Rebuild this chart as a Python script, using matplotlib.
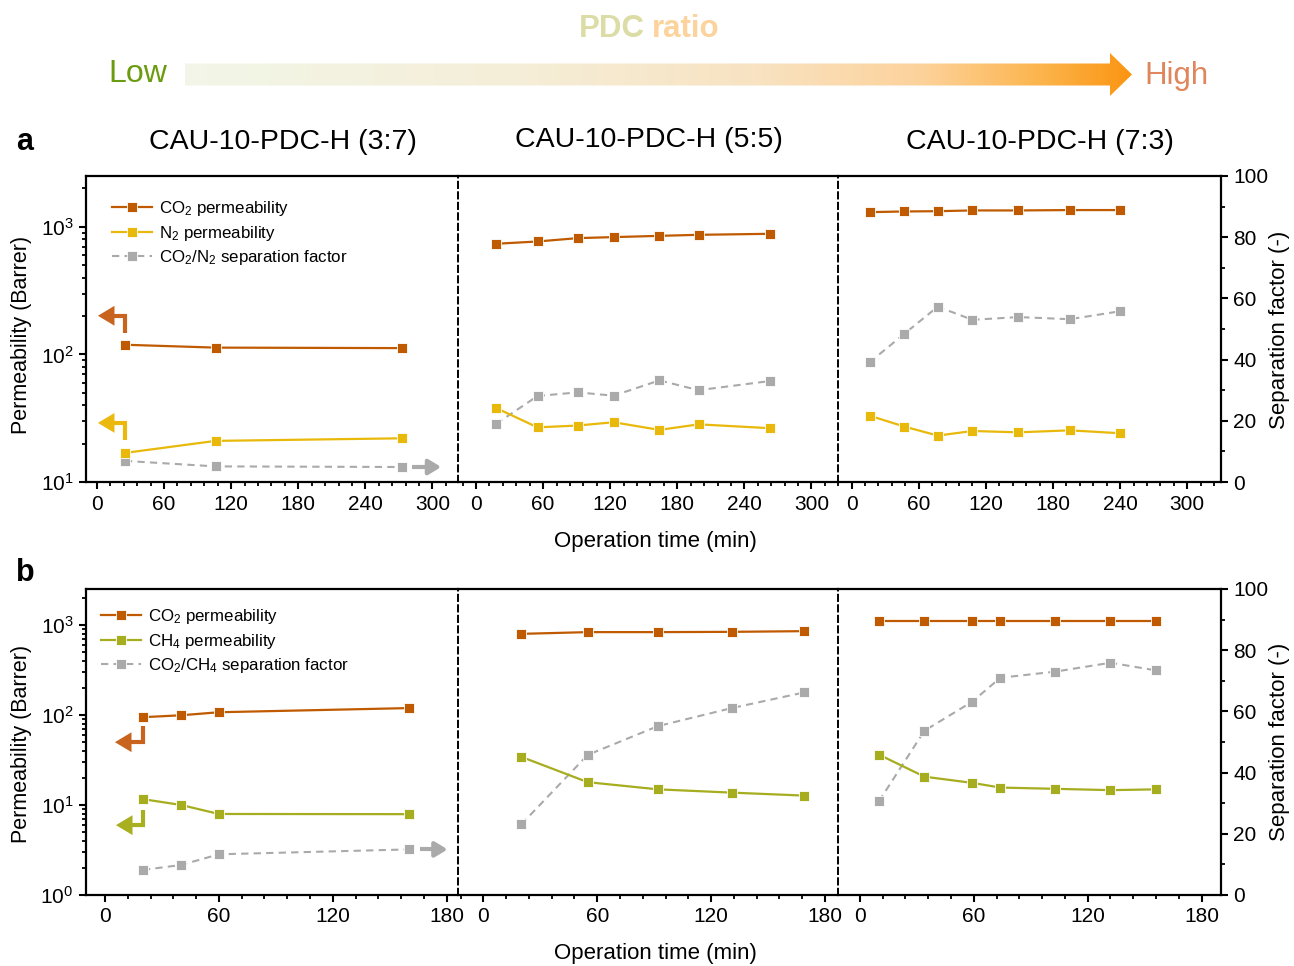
import matplotlib
matplotlib.use('Agg')
import matplotlib.pyplot as plt
import numpy as np
from matplotlib.patches import FancyArrowPatch, Polygon, ArrowStyle
from matplotlib.path import Path
from matplotlib.transforms import IdentityTransform
from matplotlib.colors import LinearSegmentedColormap
from matplotlib.ticker import MultipleLocator, LogLocator, NullFormatter
from matplotlib.lines import Line2D

plt.rcParams['font.family'] = ['Liberation Sans', 'DejaVu Sans']
plt.rcParams['mathtext.fontset'] = 'custom'
plt.rcParams['mathtext.rm'] = 'Liberation Sans'
plt.rcParams['mathtext.it'] = 'Liberation Sans:italic'
plt.rcParams['mathtext.bf'] = 'Liberation Sans:bold'

# ---------------- data ----------------
titles = ['CAU-10-PDC-H (3:7)', 'CAU-10-PDC-H (5:5)', 'CAU-10-PDC-H (7:3)']

# panel a : CO2 / N2
a_t_37 = [25, 106, 273]
a_co2_37 = [119, 113, 112]
a_n2_37 = [16.9, 21.0, 22.0]
a_sf_37 = [6.9, 5.1, 4.9]

a_t_55 = [18, 55, 91, 123, 164, 199, 263]
a_co2_55 = [736, 767, 815, 830, 849, 865, 881]
a_n2_55 = [38.0, 26.8, 27.7, 29.4, 25.6, 28.3, 26.4]
a_sf_55 = [19.0, 28.1, 29.3, 28.2, 33.2, 30.0, 33.0]

a_t_73 = [16, 47, 77, 108, 149, 195, 240]
a_co2_73 = [1303, 1318, 1325, 1343, 1343, 1352, 1352]
a_n2_73 = [33.1, 27.2, 23.1, 25.1, 24.5, 25.4, 24.1]
a_sf_73 = [39.1, 48.4, 57.3, 53.0, 53.9, 53.2, 55.8]

# panel b : CO2 / CH4
b_t_37 = [20, 40, 60, 160]
b_co2_37 = [94.3, 99, 107, 119]
b_ch4_37 = [11.6, 10.0, 7.94, 7.9]
b_sf_37 = [8.2, 9.8, 13.3, 14.9]

b_t_55 = [20, 55, 92, 131, 169]
b_co2_55 = [794, 830, 830, 836, 851]
b_ch4_55 = [34.2, 17.9, 14.9, 13.7, 12.7]
b_sf_55 = [23.1, 45.8, 55.2, 61.1, 66.2]

b_t_73 = [10, 34, 59, 74, 103, 132, 156]
b_co2_73 = [1116, 1116, 1116, 1116, 1116, 1116, 1116]
b_ch4_73 = [36.2, 20.6, 17.6, 15.6, 15.1, 14.6, 14.9]
b_sf_73 = [30.6, 53.7, 63.1, 71.0, 73.0, 75.9, 73.4]

# ---------------- style ----------------
C_CO2 = '#c05a00'
C_N2 = '#e8b90a'
C_CH4 = '#a6ad1e'
C_SF = '#aaaaaa'

W, H = 1294, 966
fig = plt.figure(figsize=(W / 100, H / 100), dpi=100)


def rect(x0, x1, yt, yb):
    return [x0 / W, 1 - yb / H, (x1 - x0) / W, (yb - yt) / H]


def draw_row(edges, ytop, ybot, xlims, series, ylim, xmax_tick, gas_color):
    axes = []
    for i in range(3):
        ax = fig.add_axes(rect(edges[i], edges[i + 1], ytop, ybot))
        tw = ax.twinx()
        ax.set_zorder(tw.get_zorder() + 1)
        ax.patch.set_visible(False)
        t, co2, gas, sf = series[i]
        ax.set_yscale('log')
        ax.set_ylim(*ylim)
        ax.set_xlim(*xlims[i])
        tw.set_ylim(0, 100)
        tw.plot(t, sf, color=C_SF, lw=1.5, ls=(0, (3.5, 2.5)), marker='s', ms=7.8,
                mec='white', mew=0.6)
        ax.plot(t, gas, color=gas_color, lw=1.6, marker='s', ms=7.8, mec='white', mew=0.6)
        ax.plot(t, co2, color=C_CO2, lw=1.6, marker='s', ms=7.8, mec='white', mew=0.6)

        ax.set_xticks(np.arange(0, xmax_tick + 1, 60))
        ax.xaxis.set_minor_locator(MultipleLocator(12))
        ax.yaxis.set_major_locator(LogLocator(base=10))
        ax.yaxis.set_minor_locator(LogLocator(base=10, subs=np.arange(2, 10)))
        ax.yaxis.set_minor_formatter(NullFormatter())
        tw.yaxis.set_major_locator(MultipleLocator(20))
        tw.yaxis.set_minor_locator(MultipleLocator(10))

        ax.tick_params(axis='both', which='major', direction='out', length=5, width=1.5,
                       labelsize=15, pad=4)
        ax.tick_params(axis='both', which='minor', direction='out', length=3, width=1.3)
        tw.tick_params(axis='y', which='major', direction='out', length=5, width=1.5,
                       labelsize=15, pad=4)
        tw.tick_params(axis='y', which='minor', direction='out', length=3, width=1.3)

        ax.tick_params(axis='y', which='both', left=(i == 0), labelleft=(i == 0),
                       right=False, labelright=False)
        tw.tick_params(axis='y', which='both', right=(i == 2), labelright=(i == 2),
                       left=False, labelleft=False)

        for s in ax.spines.values():
            s.set_linewidth(1.6)
        ax.spines['right'].set_visible(False)
        if i > 0:
            ax.spines['left'].set_linestyle((0, (3.2, 2.2)))
            ax.spines['left'].set_linewidth(1.4)
        for k, s in tw.spines.items():
            s.set_visible(k == 'right' and i == 2)
            s.set_linewidth(1.6)
        axes.append((ax, tw))
    return axes


series_a = [(a_t_37, a_co2_37, a_n2_37, a_sf_37),
            (a_t_55, a_co2_55, a_n2_55, a_sf_55),
            (a_t_73, a_co2_73, a_n2_73, a_sf_73)]
series_b = [(b_t_37, b_co2_37, b_ch4_37, b_sf_37),
            (b_t_55, b_co2_55, b_ch4_55, b_sf_55),
            (b_t_73, b_co2_73, b_ch4_73, b_sf_73)]

axA = draw_row([86, 458, 838, 1221], 176, 482,
               [(-9.8, 322.8), (-16.1, 323.7), (-12.2, 330.2)],
               series_a, (10, 2500), 300, C_N2)
axB = draw_row([86, 458.3, 838.3, 1220.7], 589, 895,
               [(-10.0, 186.1), (-13.2, 187.0), (-11.4, 190.1)],
               series_b, (1, 2500), 180, C_CH4)

# legends
def add_legend(x, y, gas_label, gas_color, sf_label):
    handles = [Line2D([], [], color=C_CO2, lw=1.6, marker='s', ms=7.8, mec='white', mew=0.6),
               Line2D([], [], color=gas_color, lw=1.6, marker='s', ms=7.8, mec='white', mew=0.6),
               Line2D([], [], color=C_SF, lw=1.5, ls=(0, (3.5, 2.5)), marker='s', ms=7.8,
                      mec='white', mew=0.6)]
    labels = [r'CO$_2$ permeability', gas_label, sf_label]
    fig.legend(handles, labels, loc='upper left', bbox_to_anchor=(x / W, 1 - y / H),
               frameon=False, fontsize=12.2, handlelength=2.35, handletextpad=0.4,
               labelspacing=0.33, borderpad=0, borderaxespad=0)

add_legend(112, 199, r'N$_2$ permeability', C_N2, r'CO$_2$/N$_2$ separation factor')
add_legend(101, 607, r'CH$_4$ permeability', C_CH4, r'CO$_2$/CH$_4$ separation factor')

# axis labels and titles
for (cx, cy), tl in zip([(283, 142), (649, 140), (1040, 142)], titles):
    fig.text(cx / W, 1 - cy / H, tl, ha='center', va='center', fontsize=20.5)
fig.text(16 / W, 1 - 142 / H, 'a', ha='left', va='center', fontsize=22, fontweight='bold')
fig.text(16 / W, 1 - 573 / H, 'b', ha='left', va='center', fontsize=22, fontweight='bold')
for cy in (542, 954):
    fig.text(655 / W, 1 - cy / H, 'Operation time (min)', ha='center', va='center', fontsize=16)
for cy in (335, 744):
    fig.text(22 / W, 1 - cy / H, 'Permeability (Barrer)', ha='center', va='center',
             rotation=90, fontsize=15.5)
for cy in (330, 742):
    fig.text(1280 / W, 1 - cy / H, 'Separation factor (-)', ha='center', va='center',
             rotation=90, fontsize=16)

# direction arrows (anchored to data points)
fig.canvas.draw()


def bent_arrow(ax, x, y, d1, d2, dl, color):
    px, py = ax.transData.transform((x, y))
    pts = [(px, py + d1), (px, py + d2), (px - dl, py + d2)]
    arr = FancyArrowPatch(path=Path(pts), arrowstyle=ArrowStyle('-|>', head_length=7.5, head_width=4.5),
                          mutation_scale=1, lw=3.0, color=color, transform=IdentityTransform(),
                          joinstyle='miter', capstyle='butt')
    fig.add_artist(arr)


def right_arrow(ax, x, y, d1, d2, color):
    px, py = ax.transData.transform((x, y))
    pts = [(px + d1, py), (px + d2, py)]
    arr = FancyArrowPatch(path=Path(pts), arrowstyle=ArrowStyle('-|>', head_length=7.5, head_width=4.5),
                          mutation_scale=1, lw=3.0, color=color, transform=IdentityTransform(),
                          capstyle='butt')
    fig.add_artist(arr)


axa, twa = axA[0]
bent_arrow(axa, a_t_37[0], a_co2_37[0], 12, 29, 27, '#c8641e')
bent_arrow(axa, a_t_37[0], a_n2_37[0], 13, 30, 27, '#ebb80e')
right_arrow(twa, a_t_37[-1], a_sf_37[-1], 10, 39, C_SF)

axb, twb = axB[0]
bent_arrow(axb, b_t_37[0], b_co2_37[0], -9, -25, 28, '#c8641e')
bent_arrow(axb, b_t_37[0], b_ch4_37[0], -11, -26, 27, '#a8b020')
right_arrow(twb, b_t_37[-1], b_sf_37[-1], 11, 39, C_SF)

# header: gradient arrow
hx = fig.add_axes([0, 1 - 110 / H, 1, 110 / H])
hx.set_xlim(0, W)
hx.set_ylim(110, 0)
hx.axis('off')
cmap = LinearSegmentedColormap.from_list('pdc', [(0.0, '#f2f6e8'), (0.35, '#f5eed8'),
                                                 (0.6, '#f8e3c2'), (0.78, '#fdd29b'),
                                                 (0.9, '#fcb650'), (1.0, '#fb9512')])
grad = np.linspace(0, 1, 512).reshape(1, -1)
im = hx.imshow(grad, cmap=cmap, extent=(185, 1132, 96, 53), aspect='auto', interpolation='bilinear')
poly = Polygon([(185, 63.5), (1110, 63.5), (1110, 53), (1132, 74.5), (1110, 96), (1110, 85.5),
                (185, 85.5)], closed=True, fc='none', ec='none', transform=hx.transData)
hx.add_patch(poly)
im.set_clip_path(poly)
hx.text(108, 82, 'Low', ha='left', va='baseline', fontsize=23, color='#6b9c0f')
hx.text(1144, 84, 'High', ha='left', va='baseline', fontsize=22.5, color='#e0865c')
hx.text(645, 29, 'PDC', ha='right', va='center', fontsize=22.5, fontweight='bold', color='#dcdca6')
hx.text(652, 29, 'ratio', ha='left', va='center', fontsize=22.5, fontweight='bold', color='#fcd39c')

fig.savefig('out.png', dpi=100)
